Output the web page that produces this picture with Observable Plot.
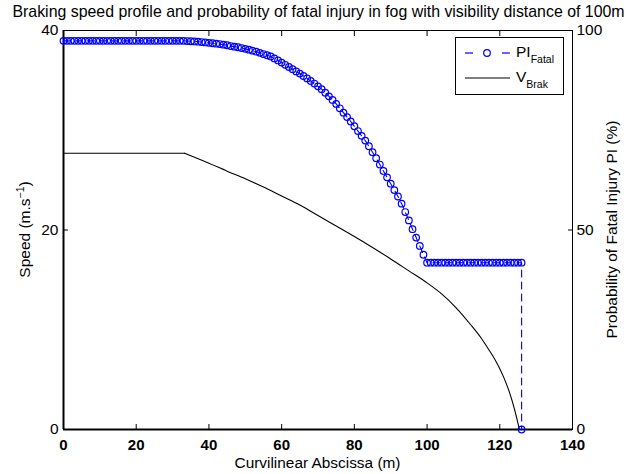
<!DOCTYPE html>
<html><head><meta charset="utf-8">
<script src="https://cdn.jsdelivr.net/npm/d3@7"></script>
<script src="https://cdn.jsdelivr.net/npm/@observablehq/plot@0.6"></script>
<style>body{margin:0;background:#fff} svg{display:block}</style>
</head><body><div id="chart"></div>
<script>
const titleText = "Braking speed profile and probability of fatal injury in fog with visibility distance of 100m";
const xTicks = [0, 20, 40, 60, 80, 100, 120, 140];
const speedTicks = [0, 20, 40];
const piTicks = [0, 50, 100];

// Probability of fatal injury (%) sampled along the abscissa (m)
const piDistance = [
  0,1,2,3,4,5,6,7,8,9,10,11,12,13,14,15,16,17,18,19,
  20,21,22,23,24,25,26,27,28,29,30,31,32,33,34,35,36,37,38,39,
  40,41,42,43,44,45,46,47,48,49,50,51,52,53,54,55,56,57,58,59,
  60,61,62,63,64,65,66,67,68,69,70,71,72,73,74,75,76,77,78,79,
  80,81,82,83,84,85,86,87,88,89,90,91,92,93,94,95,96,97,98,99,
  100,101,102,103,104,105,106,107,108,109,110,111,112,113,114,115,116,117,118,119,
  120,121,122,123,124,125,126,126
];
const piFatal = [
  97.4,97.4,97.4,97.4,97.4,97.4,97.4,97.4,97.4,97.4,97.4,97.4,97.4,97.4,97.4,97.4,97.4,97.4,97.4,97.4,
  97.4,97.4,97.4,97.4,97.4,97.4,97.4,97.4,97.4,97.4,97.4,97.4,97.4,97.4,97.35,97.3,97.25,97.2,97.1,97.0,
  96.9,96.8,96.7,96.6,96.45,96.3,96.1,95.95,95.8,95.6,95.4,95.2,94.95,94.7,94.4,94.1,93.8,93.5,93.0,92.5,
  91.95,91.4,90.85,90.3,89.75,89.2,88.6,88.0,87.35,86.7,86.0,85.3,84.4,83.5,82.6,81.6,80.5,79.4,78.3,77.2,
  76.0,74.8,73.6,72.4,71.0,69.5,68.0,66.4,64.8,63.2,61.6,60.0,58.4,56.6,54.5,52.4,50.2,48.1,46.0,43.8,
  41.8,41.8,41.8,41.8,41.8,41.8,41.8,41.8,41.8,41.8,41.8,41.8,41.8,41.8,41.8,41.8,41.8,41.8,41.8,41.8,
  41.8,41.8,41.8,41.8,41.8,41.8,41.8,0
];

// Braking speed profile (m/s) along the abscissa (m): constant cruise, then braking
const cruiseDistance = [0, 33.3];
const cruiseSpeed = [27.7, 27.7];
const brakeDistance = [33.3, 40, 45, 50, 55, 60, 65, 70, 75, 80, 85, 90, 95, 100, 104, 108, 112, 115, 117, 119, 120, 121, 122, 123, 124, 124.7, 125.4];
const brakeSpeed =    [27.7, 26.7, 25.9, 25.15, 24.3, 23.4, 22.5, 21.45, 20.4, 19.35, 18.25, 17.1, 15.9, 14.7, 13.6, 12.2, 10.5, 9.1, 8.0, 6.8, 6.1, 5.3, 4.4, 3.35, 2.1, 1.1, 0];

const piRows = piDistance.map((d, i) => ({d, pi: piFatal[i]}));
const cruiseRows = cruiseDistance.map((d, i) => ({d, v: cruiseSpeed[i]}));
const brakeRows = brakeDistance.map((d, i) => ({d, v: brakeSpeed[i]}));

const speedMax = 40, piMax = 100;
const piToSpeed = p => p * speedMax / piMax;

const font = "'Liberation Sans', Arial, Helvetica, sans-serif";
const W = 639, H = 474;
const mL = 63, mR = 67, mT = 30, mB = 45;

const chart = Plot.plot({
  width: W, height: H,
  marginLeft: mL, marginRight: mR, marginTop: mT, marginBottom: mB,
  style: {fontFamily: font, fontSize: "15px", color: "#000", background: "#fff", overflow: "visible"},
  x: {domain: [0, 140]},
  y: {domain: [0, speedMax]},
  marks: [
    Plot.frame({stroke: "#000", strokeWidth: 1}),
    Plot.ruleX([0], {stroke: "#000", strokeWidth: 2}),
    Plot.ruleY([0], {stroke: "#000", strokeWidth: 2}),
    // inward ticks
    Plot.axisX({anchor: "bottom", ticks: xTicks, tickSize: -5, fill: "none", label: null, stroke: "#000"}),
    Plot.axisX({anchor: "top", ticks: xTicks, tickSize: -5, fill: "none", label: null, stroke: "#000"}),
    Plot.axisY({anchor: "left", ticks: speedTicks, tickSize: -5, fill: "none", label: null, stroke: "#000"}),
    Plot.axisY({anchor: "right", ticks: piTicks.map(piToSpeed), tickSize: -5, fill: "none", label: null, stroke: "#000"}),
    // tick labels
    Plot.axisX({anchor: "bottom", ticks: xTicks, tickSize: 0, tickPadding: 10, label: null, fontWeight: "bold", fontSize: 15, fill: "#000"}),
    Plot.axisY({anchor: "left", ticks: speedTicks, tickSize: 0, tickPadding: 5, label: null, fontSize: 15.5, fill: "#000"}),
    Plot.axisY({anchor: "right", ticks: piTicks.map(piToSpeed), tickSize: 0, tickPadding: 4, label: null, fontSize: 15.5, fill: "#000",
      tickFormat: d => String(Math.round(d * piMax / speedMax))}),
    // data
    Plot.line(cruiseRows, {x: "d", y: "v", stroke: "#000", strokeWidth: 1.1}),
    Plot.line(brakeRows, {x: "d", y: "v", stroke: "#000", strokeWidth: 1.1, curve: "monotone-x"}),
    Plot.line(piRows, {x: "d", y: r => piToSpeed(r.pi), stroke: "#0000ff", strokeWidth: 1.1, strokeDasharray: "7,5"}),
    Plot.dot(piRows, {x: "d", y: r => piToSpeed(r.pi), r: 3.3, stroke: "#0000ff", fill: "none", strokeWidth: 1.2})
  ]
});

const svg = d3.select(chart);
// title
svg.append("text").attr("x", W / 2 - 1).attr("y", 17).attr("text-anchor", "middle")
  .attr("font-family", font).attr("font-size", 15.9).text(titleText);
// x label
svg.append("text").attr("x", mL + (W - mL - mR) / 2).attr("y", 468).attr("text-anchor", "middle")
  .attr("font-family", font).attr("font-size", 15.4).text("Curvilinear Abscissa (m)");
// left label
const yl = svg.append("text").attr("transform", `translate(30,${mT + (H - mT - mB) / 2}) rotate(-90)`)
  .attr("text-anchor", "middle").attr("font-family", font).attr("font-size", 15.5);
yl.append("tspan").text("Speed (m.s");
yl.append("tspan").attr("font-size", 10.5).attr("dy", -6).text("−1");
yl.append("tspan").attr("dy", 6).text(")");
// right label
svg.append("text").attr("transform", `translate(617,${mT + (H - mT - mB) / 2}) rotate(-90)`)
  .attr("text-anchor", "middle").attr("font-family", font).attr("font-size", 15.5)
  .text("Probability of Fatal Injury PI (%)");

// legend
const lg = svg.append("g").attr("font-family", font).attr("text-anchor", "start");
lg.append("rect").attr("x", 455.5).attr("y", 37.5).attr("width", 108).attr("height", 57)
  .attr("fill", "#fff").attr("stroke", "#000").attr("stroke-width", 1);
lg.append("line").attr("x1", 465).attr("x2", 473).attr("y1", 53).attr("y2", 53)
  .attr("stroke", "#0000ff").attr("stroke-width", 1.2);
lg.append("line").attr("x1", 502).attr("x2", 510).attr("y1", 53).attr("y2", 53)
  .attr("stroke", "#0000ff").attr("stroke-width", 1.2);
lg.append("circle").attr("cx", 487).attr("cy", 53).attr("r", 3.3).attr("fill", "none").attr("stroke", "#0000ff").attr("stroke-width", 1.2);
lg.append("line").attr("x1", 465).attr("x2", 510).attr("y1", 78).attr("y2", 78)
  .attr("stroke", "#000").attr("stroke-width", 1.1);
const t1 = lg.append("text").attr("x", 516).attr("y", 57).attr("font-size", 15.5).attr("text-anchor", "start");
t1.append("tspan").text("PI");
t1.append("tspan").attr("font-size", 10.5).attr("dy", 6).text("Fatal");
const t2 = lg.append("text").attr("x", 516).attr("y", 82).attr("font-size", 15.5).attr("text-anchor", "start");
t2.append("tspan").text("V");
t2.append("tspan").attr("font-size", 10.5).attr("dy", 6).text("Brak");

document.getElementById("chart").appendChild(chart);
</script>
</body></html>
